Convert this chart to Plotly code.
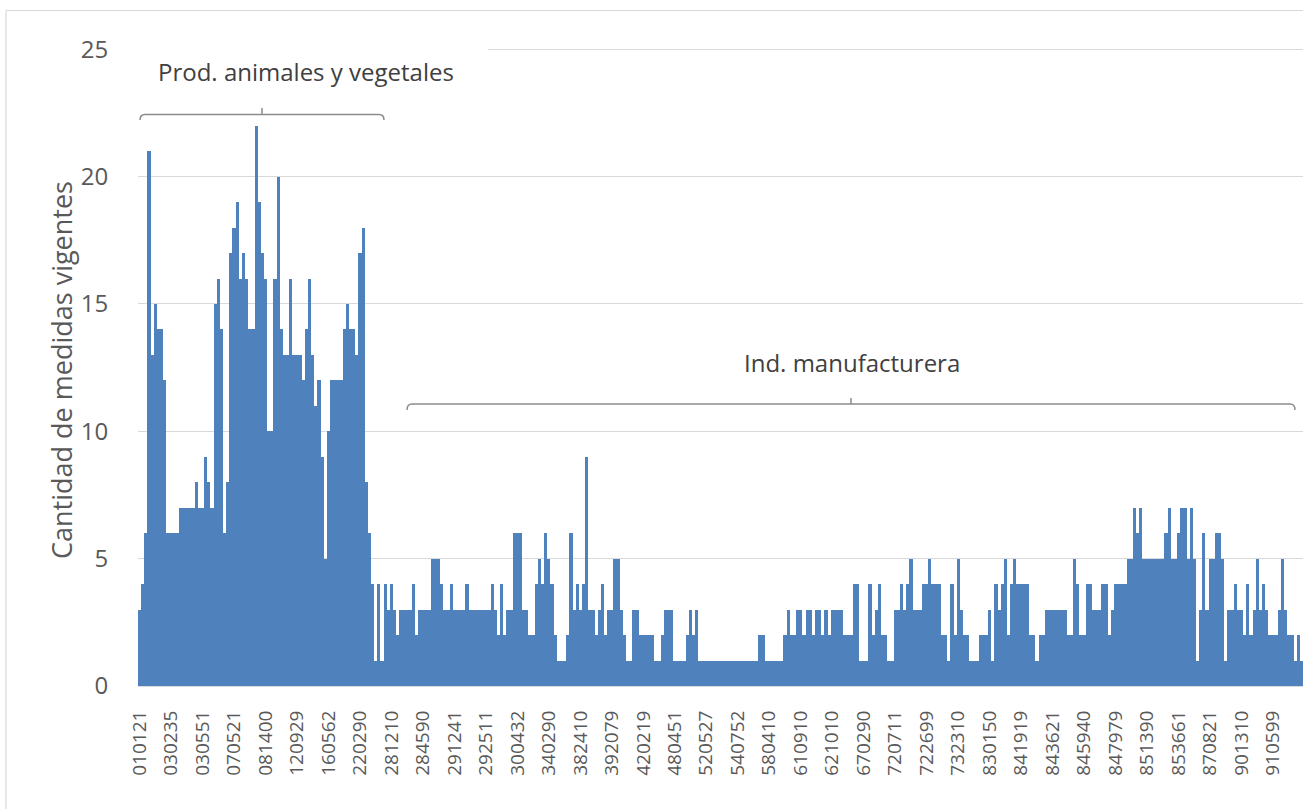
import plotly.graph_objects as go

# HS product codes shown as tick labels (one every 10 bins)
tick_labels = ["010121", "030235", "030551", "070521", "081400", "120929", "160562",
               "220290", "281210", "284590", "291241", "292511", "300432", "340290",
               "382410", "392079", "420219", "480451", "520527", "540752", "580410",
               "610910", "621010", "670290", "720711", "722699", "732310", "830150",
               "841919", "843621", "845940", "847979", "851390", "853661", "870821",
               "901310", "910599"]

# Number of measures in force (bins in code order)
valores_prod_animales = [
    3, 4, 6, 21, 13, 15, 14, 14, 12, 6,
    6, 6, 6, 7, 7, 7, 7, 7, 8, 7,
    7, 9, 8, 7, 15, 16, 14, 6, 8, 17,
    18, 19, 16, 17, 16, 14, 14, 22, 19, 17,
    16, 10, 10, 16, 20, 14, 13, 13, 16, 13,
    13, 13, 12, 14, 16, 13, 11, 12, 9, 5,
    10, 12, 12, 12, 12, 14, 15, 14, 14, 13,
    17, 18, 8, 6, 4, 1, 4, 1,
]
valores_ind_manufacturera = [
    4, 3,
    4, 3, 2, 3, 3, 3, 3, 4, 2, 3,
    3, 3, 3, 5, 5, 5, 4, 3, 3, 4,
    3, 3, 3, 3, 4, 3, 3, 3, 3, 3,
    3, 3, 4, 3, 2, 4, 2, 3, 3, 6,
    6, 6, 3, 3, 2, 2, 4, 5, 4, 6,
    5, 4, 2, 1, 1, 1, 2, 6, 3, 4,
    3, 4, 9, 3, 3, 2, 3, 4, 2, 3,
    3, 5, 5, 3, 2, 1, 1, 3, 3, 2,
    2, 2, 2, 2, 1, 1, 2, 3, 3, 3,
    1, 1, 1, 1, 2, 3, 2, 3, 1, 1,
    1, 1, 1, 1, 1, 1, 1, 1, 1, 1,
    1, 1, 1, 1, 1, 1, 1, 2, 2, 1,
    1, 1, 1, 1, 1, 2, 3, 2, 2, 3,
    3, 2, 3, 3, 2, 3, 3, 2, 3, 2,
    3, 3, 3, 3, 2, 2, 2, 4, 4, 1,
    1, 1, 4, 2, 3, 4, 2, 2, 1, 1,
    3, 3, 4, 3, 4, 5, 3, 3, 3, 4,
    4, 5, 4, 4, 4, 2, 2, 1, 4, 2,
    5, 3, 2, 2, 1, 1, 1, 2, 2, 2,
    3, 1, 4, 3, 4, 5, 2, 4, 5, 4,
    4, 4, 4, 2, 2, 1, 2, 2, 3, 3,
    3, 3, 3, 3, 3, 2, 2, 5, 4, 2,
    2, 4, 4, 3, 3, 3, 4, 4, 2, 3,
    4, 4, 4, 4, 5, 5, 7, 6, 7, 5,
    5, 5, 5, 5, 5, 5, 6, 7, 5, 5,
    6, 7, 7, 5, 7, 5, 1, 3, 6, 3,
    5, 5, 6, 6, 5, 1, 3, 3, 4, 3,
    3, 2, 4, 2, 3, 5, 3, 4, 3, 2,
    2, 2, 3, 5, 3, 2, 2, 1, 2, 1,
]
y_ticks = [0, 5, 10, 15, 20, 25]

valores = valores_prod_animales + valores_ind_manufacturera
n = len(valores)
x_idx = list(range(n))
tick_vals = list(range(0, 10 * len(tick_labels), 10))

W, H = 1303, 809
L, R, T, B = 138, 0, 48, 123
PW, PH = W - L - R, H - T - B
Y_MAX = 25.05


def px(xp):
    return (xp - L) / PW


def py(yp):
    return (H - B - yp) / PH


FONT = "Open Sans, Noto Sans, sans-serif"
GRAY = "#595959"
BORDER = "#d9d9d9"

fig = go.Figure(
    go.Bar(
        x=x_idx,
        y=valores,
        width=1,
        marker=dict(color="#4f81bd", line=dict(width=0)),
        hovertemplate="%{y}<extra></extra>",
    )
)


def bracket(x0, x1, ybar, ydrop, ytop):
    xm = (x0 + x1) / 2
    r = 5
    path = (
        f"M {px(x0)},{py(ydrop)} Q {px(x0)},{py(ybar)} {px(x0 + r)},{py(ybar)} "
        f"L {px(x1 - r)},{py(ybar)} Q {px(x1)},{py(ybar)} {px(x1)},{py(ydrop)} "
        f"M {px(xm)},{py(ybar)} L {px(xm)},{py(ytop)}"
    )
    return dict(type="path", xref="paper", yref="paper", path=path,
                line=dict(color="#8c8c8c", width=1.5), layer="above")


shapes = [
    # white text box covering the top gridline behind the first label
    dict(type="rect", xref="paper", yref="paper", x0=px(138), x1=px(488),
         y0=py(54), y1=py(44), fillcolor="white", line=dict(width=0), layer="above"),
    bracket(140, 384, 114.5, 120, 108),
    bracket(407, 1295, 404, 410, 398),
    # chart frame (left and top edges visible)
    dict(type="line", xref="paper", yref="paper", x0=px(6), x1=px(6),
         y0=py(10.5), y1=py(812), line=dict(color=BORDER, width=1.2), layer="above"),
    dict(type="line", xref="paper", yref="paper", x0=px(6), x1=px(1310),
         y0=py(10.5), y1=py(10.5), line=dict(color=BORDER, width=1.2), layer="above"),
]

annotations = [
    dict(text="Prod. animales y vegetales", xref="paper", yref="paper",
         x=px(306), y=py(71), showarrow=False, xanchor="center", yanchor="middle",
         font=dict(family=FONT, size=24, color="#404040")),
    dict(text="Ind. manufacturera", xref="paper", yref="paper",
         x=px(852), y=py(362), showarrow=False, xanchor="center", yanchor="middle",
         font=dict(family=FONT, size=24, color="#404040")),
    dict(text="Cantidad de medidas vigentes", xref="paper", yref="paper",
         x=px(61), y=py(370), showarrow=False, xanchor="center", yanchor="middle",
         textangle=-90, font=dict(family=FONT, size=27, color=GRAY)),
]

fig.update_layout(
    width=W, height=H, autosize=False,
    margin=dict(l=L, r=R, t=T, b=B, pad=0),
    paper_bgcolor="white", plot_bgcolor="white",
    bargap=0, showlegend=False,
    shapes=shapes, annotations=annotations,
    font=dict(family=FONT, color=GRAY),
    xaxis=dict(
        range=[-0.5, n - 0.5], tickmode="array", tickvals=tick_vals, ticktext=tick_labels,
        tickangle=-90, tickfont=dict(family=FONT, size=19, color=GRAY),
        ticks="outside", ticklen=16, tickcolor="rgba(0,0,0,0)",
        showline=True, linecolor=BORDER, linewidth=1, showgrid=False, zeroline=False,
    ),
    yaxis=dict(
        range=[0, Y_MAX], tickmode="array", tickvals=y_ticks,
        tickfont=dict(family=FONT, size=24, color=GRAY),
        ticks="outside", ticklen=24, tickcolor="rgba(0,0,0,0)",
        showgrid=True, gridcolor=BORDER, gridwidth=1, zeroline=False, showline=False,
    ),
)

fig.write_html(
    "out.html",
    config={"responsive": False, "displayModeBar": False},
    post_script="document.body.style.margin='0';document.body.style.overflow='hidden';",
)
